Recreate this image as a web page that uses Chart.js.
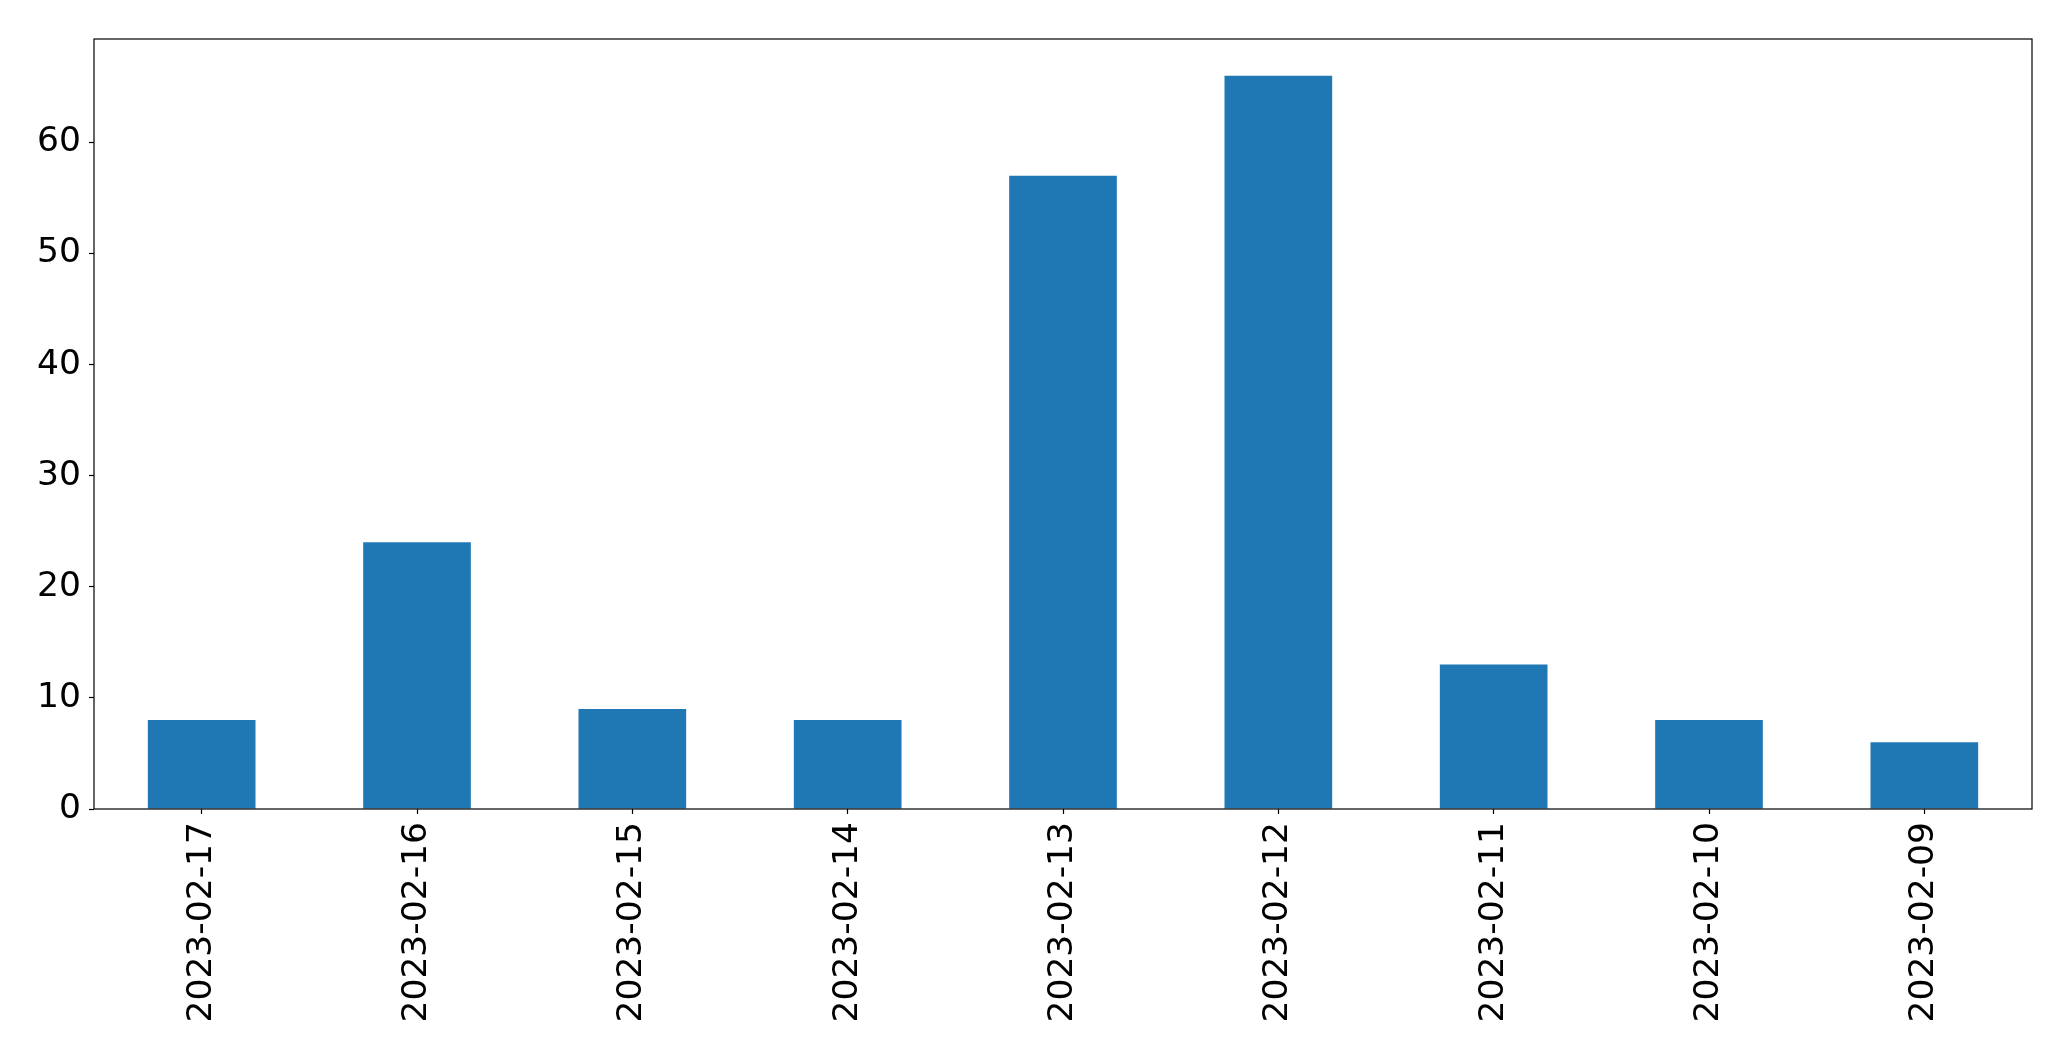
<!DOCTYPE html>
<html>
<head>
<meta charset="utf-8">
<script src="https://cdn.jsdelivr.net/npm/chart.js@4/dist/chart.umd.min.js"></script>
<style>
  html, body { margin: 0; padding: 0; background: #fff; }
  #wrap { width: 2071px; height: 1061px; position: relative; }
</style>
</head>
<body>
<div id="wrap"><canvas id="c" width="2071" height="1061"></canvas></div>
<script>
const categories = ["2023-02-17", "2023-02-16", "2023-02-15", "2023-02-14", "2023-02-13", "2023-02-12", "2023-02-11", "2023-02-10", "2023-02-09"];
const values = [8, 24, 9, 8, 57, 66, 13, 8, 6];
const yTicks = [0, 10, 20, 30, 40, 50, 60];
const yMax = 69.3;

const FONT = "'DejaVu Sans', sans-serif";

const frame = {
  id: 'frame',
  afterDatasetsDraw(chart) {
    const a = chart.chartArea;
    const ctx = chart.ctx;
    ctx.save();
    ctx.strokeStyle = '#000';
    ctx.lineWidth = 1.2;
    ctx.strokeRect(a.left, a.top, a.right - a.left, a.bottom - a.top);
    ctx.restore();
  }
};

new Chart(document.getElementById('c'), {
  type: 'bar',
  data: {
    labels: categories,
    datasets: [{
      data: values,
      backgroundColor: '#1f77b4',
      borderWidth: 0,
      barPercentage: 0.5,
      categoryPercentage: 1.0
    }]
  },
  options: {
    responsive: false,
    animation: false,
    devicePixelRatio: 1,
    layout: { padding: { top: 39, right: 39, left: 0, bottom: 0 } },
    plugins: { legend: { display: false }, tooltip: { enabled: false } },
    scales: {
      x: {
        offset: true,
        grid: { display: true, offset: false, drawOnChartArea: false, drawTicks: true, tickLength: 5, tickColor: '#000', tickWidth: 1.2 },
        border: { display: false },
        ticks: {
          color: '#000',
          font: { family: FONT, size: 34.5 },
          minRotation: 90, maxRotation: 90,
          padding: 8,
          autoSkip: false
        },
        afterFit(scale) { scale.height = 1061 - 809; }
      },
      y: {
        min: 0,
        max: yMax,
        afterBuildTicks(scale) { scale.ticks = yTicks.map(v => ({ value: v })); },
        grid: { display: true, drawOnChartArea: false, drawTicks: true, tickLength: 5, tickColor: '#000', tickWidth: 1.2 },
        border: { display: false },
        ticks: {
          color: '#000',
          font: { family: FONT, size: 34.5 },
          padding: 8
        },
        afterFit(scale) { scale.width = 94; }
      }
    }
  },
  plugins: [frame]
});
</script>
</body>
</html>
